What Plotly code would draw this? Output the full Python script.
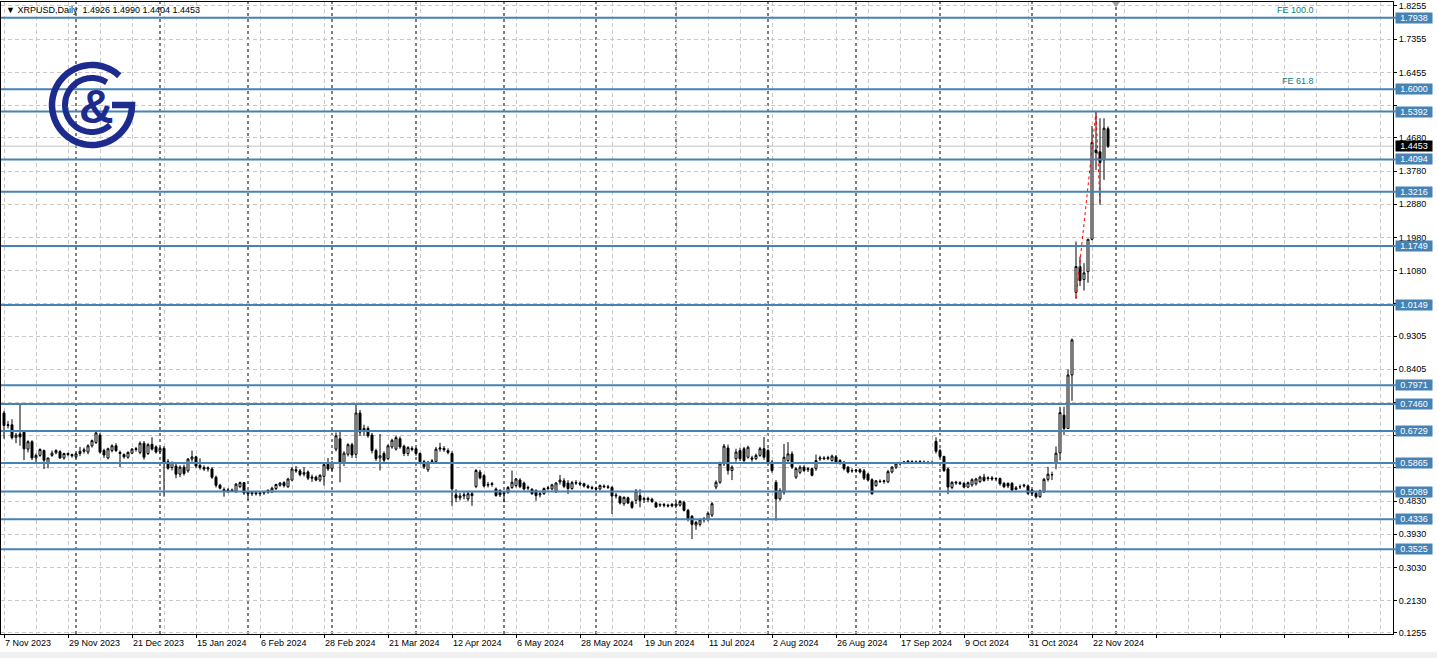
import numpy as np
import pandas as pd
import plotly.graph_objects as go

# ---------------- data ----------------
opens = [0.722,0.688,0.690,0.656,0.665,0.670,0.624,0.644,0.600,0.607,
         0.620,0.585,0.607,0.614,0.617,0.600,0.612,0.609,0.603,0.612,
         0.618,0.616,0.633,0.642,0.662,0.620,0.600,0.620,0.633,0.615,
         0.609,0.602,0.613,0.623,0.615,0.640,0.612,0.637,0.630,0.618,
         0.626,0.590,0.574,0.578,0.556,0.575,0.565,0.597,0.603,0.580,
         0.574,0.570,0.570,0.548,0.526,0.514,0.511,0.513,0.510,0.522,
         0.533,0.508,0.503,0.506,0.503,0.505,0.507,0.508,0.517,0.526,
         0.533,0.522,0.540,0.568,0.565,0.556,0.562,0.545,0.548,0.540,
         0.550,0.583,0.571,0.624,0.652,0.586,0.610,0.636,0.610,0.722,
         0.672,0.680,0.662,0.620,0.600,0.612,0.598,0.630,0.624,0.652,
         0.632,0.612,0.626,0.625,0.612,0.590,0.568,0.590,0.590,0.624,
         0.626,0.620,0.612,0.500,0.492,0.497,0.489,0.503,0.523,0.562,
         0.552,0.526,0.528,0.516,0.512,0.503,0.507,0.520,0.525,0.540,
         0.532,0.518,0.515,0.511,0.500,0.503,0.517,0.516,0.508,0.535,
         0.538,0.532,0.517,0.533,0.532,0.530,0.524,0.520,0.518,0.516,
         0.524,0.522,0.520,0.497,0.495,0.476,0.492,0.480,0.485,0.498,
         0.487,0.490,0.488,0.478,0.472,0.474,0.472,0.474,0.470,0.472,
         0.480,0.458,0.442,0.418,0.420,0.432,0.433,0.445,0.521,0.534,
         0.584,0.627,0.566,0.598,0.620,0.625,0.602,0.600,0.598,0.607,
         0.625,0.620,0.589,0.534,0.489,0.507,0.593,0.611,0.548,0.561,
         0.575,0.568,0.571,0.571,0.597,0.600,0.598,0.593,0.603,0.593,
         0.588,0.575,0.566,0.565,0.568,0.565,0.556,0.541,0.525,0.537,
         0.536,0.535,0.562,0.575,0.584,0.587,0.589,0.590,0.588,0.589,
         0.589,0.587,0.588,0.645,0.620,0.604,0.570,0.520,0.532,0.533,
         0.531,0.521,0.527,0.530,0.536,0.548,0.544,0.546,0.543,0.544,
         0.531,0.531,0.531,0.515,0.522,0.524,0.524,0.513,0.504,0.495,
         0.508,0.542,0.554,0.586,0.614,0.716,0.680,0.825,1.049,1.119,
         1.084,1.105,1.193,1.435,1.430,1.408,1.4926]
highs = [0.728,0.700,0.705,0.668,0.748,0.675,0.648,0.648,0.612,0.626,
         0.623,0.600,0.620,0.624,0.621,0.614,0.615,0.612,0.615,0.630,
         0.628,0.637,0.650,0.673,0.668,0.625,0.628,0.637,0.640,0.620,
         0.612,0.618,0.627,0.630,0.645,0.646,0.640,0.656,0.634,0.630,
         0.632,0.597,0.590,0.584,0.580,0.582,0.600,0.620,0.606,0.599,
         0.580,0.577,0.575,0.552,0.530,0.520,0.518,0.517,0.532,0.536,
         0.535,0.512,0.510,0.510,0.509,0.510,0.515,0.522,0.530,0.535,
         0.537,0.546,0.575,0.578,0.570,0.575,0.566,0.555,0.552,0.556,
         0.585,0.600,0.592,0.669,0.674,0.618,0.640,0.641,0.744,0.730,
         0.690,0.686,0.668,0.625,0.665,0.618,0.637,0.652,0.660,0.658,
         0.636,0.632,0.632,0.628,0.615,0.595,0.592,0.597,0.630,0.641,
         0.632,0.626,0.618,0.515,0.505,0.507,0.508,0.510,0.570,0.568,
         0.556,0.535,0.535,0.520,0.515,0.510,0.524,0.566,0.546,0.545,
         0.536,0.525,0.518,0.515,0.508,0.520,0.524,0.530,0.535,0.554,
         0.545,0.540,0.538,0.540,0.536,0.533,0.528,0.525,0.522,0.528,
         0.528,0.527,0.524,0.505,0.498,0.496,0.495,0.484,0.516,0.515,
         0.495,0.495,0.492,0.482,0.477,0.478,0.476,0.478,0.485,0.486,
         0.484,0.462,0.445,0.430,0.436,0.440,0.455,0.480,0.539,0.590,
         0.638,0.636,0.580,0.625,0.628,0.630,0.633,0.606,0.612,0.630,
         0.657,0.625,0.594,0.540,0.518,0.638,0.643,0.618,0.575,0.580,
         0.580,0.575,0.574,0.609,0.606,0.605,0.606,0.609,0.608,0.597,
         0.592,0.578,0.572,0.570,0.572,0.570,0.560,0.545,0.540,0.542,
         0.541,0.568,0.578,0.587,0.590,0.592,0.594,0.594,0.593,0.594,
         0.593,0.592,0.592,0.656,0.625,0.606,0.574,0.537,0.538,0.537,
         0.535,0.536,0.545,0.546,0.552,0.557,0.550,0.551,0.548,0.547,
         0.535,0.534,0.535,0.524,0.528,0.530,0.528,0.516,0.508,0.514,
         0.546,0.576,0.563,0.631,0.739,0.739,0.840,0.924,1.187,1.146,
         1.128,1.193,1.500,1.539,1.521,1.521,1.4990]
lows = [0.652,0.680,0.650,0.640,0.633,0.594,0.615,0.594,0.584,0.603,
        0.570,0.572,0.603,0.610,0.598,0.595,0.604,0.601,0.598,0.605,
        0.612,0.610,0.628,0.638,0.612,0.600,0.596,0.615,0.616,0.575,
        0.598,0.598,0.610,0.617,0.610,0.595,0.608,0.620,0.612,0.612,
        0.495,0.568,0.566,0.545,0.548,0.552,0.560,0.590,0.572,0.568,
        0.565,0.563,0.543,0.520,0.515,0.495,0.505,0.508,0.505,0.518,
        0.500,0.486,0.497,0.498,0.496,0.500,0.503,0.505,0.513,0.522,
        0.520,0.519,0.537,0.560,0.550,0.550,0.540,0.535,0.537,0.535,
        0.525,0.565,0.565,0.618,0.534,0.578,0.604,0.600,0.600,0.660,
        0.660,0.655,0.612,0.592,0.566,0.588,0.595,0.625,0.620,0.625,
        0.605,0.605,0.618,0.606,0.584,0.570,0.562,0.584,0.585,0.617,
        0.617,0.610,0.470,0.480,0.485,0.488,0.482,0.470,0.518,0.542,
        0.520,0.520,0.522,0.495,0.494,0.480,0.503,0.516,0.520,0.518,
        0.512,0.512,0.500,0.484,0.493,0.500,0.512,0.512,0.505,0.528,
        0.518,0.502,0.514,0.527,0.524,0.520,0.516,0.514,0.510,0.512,
        0.518,0.516,0.448,0.490,0.474,0.470,0.475,0.462,0.475,0.466,
        0.478,0.480,0.478,0.465,0.467,0.466,0.466,0.466,0.466,0.468,
        0.455,0.428,0.380,0.405,0.414,0.425,0.428,0.440,0.515,0.530,
        0.578,0.555,0.540,0.590,0.592,0.588,0.598,0.590,0.594,0.603,
        0.595,0.585,0.560,0.430,0.484,0.500,0.585,0.570,0.543,0.556,
        0.562,0.562,0.550,0.565,0.592,0.594,0.594,0.590,0.585,0.582,
        0.566,0.558,0.560,0.560,0.558,0.540,0.536,0.500,0.522,0.532,
        0.530,0.532,0.558,0.570,0.580,0.583,0.585,0.585,0.584,0.585,
        0.584,0.583,0.583,0.612,0.600,0.562,0.502,0.515,0.527,0.527,
        0.518,0.518,0.522,0.525,0.532,0.535,0.538,0.538,0.537,0.525,
        0.518,0.518,0.510,0.512,0.516,0.520,0.500,0.498,0.490,0.492,
        0.505,0.536,0.540,0.569,0.594,0.662,0.680,0.755,1.032,1.066,
        1.054,1.075,1.190,1.381,1.2865,1.354,1.4404]
closes = [0.688,0.690,0.655,0.662,0.657,0.625,0.644,0.600,0.607,0.623,
          0.594,0.600,0.613,0.620,0.600,0.612,0.609,0.606,0.611,0.618,
          0.622,0.633,0.647,0.668,0.616,0.608,0.625,0.633,0.620,0.612,
          0.603,0.615,0.624,0.625,0.640,0.602,0.636,0.624,0.616,0.626,
          0.588,0.572,0.588,0.556,0.575,0.558,0.597,0.603,0.578,0.574,
          0.570,0.573,0.548,0.526,0.518,0.510,0.513,0.510,0.529,0.533,
          0.505,0.503,0.506,0.503,0.505,0.507,0.512,0.518,0.528,0.532,
          0.525,0.543,0.570,0.565,0.555,0.560,0.545,0.548,0.540,0.553,
          0.582,0.570,0.588,0.660,0.588,0.613,0.636,0.608,0.722,0.670,
          0.680,0.660,0.620,0.598,0.606,0.594,0.633,0.648,0.655,0.630,
          0.612,0.628,0.623,0.612,0.590,0.576,0.588,0.592,0.624,0.627,
          0.622,0.615,0.516,0.492,0.497,0.500,0.503,0.498,0.566,0.546,
          0.524,0.528,0.530,0.498,0.500,0.506,0.520,0.534,0.543,0.522,
          0.516,0.520,0.503,0.498,0.503,0.517,0.519,0.527,0.532,0.540,
          0.523,0.517,0.533,0.532,0.529,0.524,0.520,0.518,0.516,0.525,
          0.522,0.520,0.497,0.499,0.478,0.493,0.478,0.466,0.510,0.485,
          0.490,0.487,0.482,0.467,0.474,0.472,0.470,0.470,0.475,0.482,
          0.458,0.435,0.420,0.425,0.432,0.435,0.450,0.476,0.534,0.584,
          0.632,0.566,0.575,0.616,0.598,0.593,0.629,0.597,0.607,0.625,
          0.602,0.589,0.566,0.489,0.512,0.602,0.611,0.575,0.571,0.575,
          0.566,0.571,0.553,0.593,0.600,0.598,0.601,0.605,0.588,0.585,
          0.571,0.562,0.565,0.567,0.562,0.545,0.540,0.503,0.538,0.536,
          0.538,0.563,0.575,0.584,0.587,0.589,0.591,0.588,0.589,0.590,
          0.587,0.588,0.587,0.618,0.604,0.566,0.521,0.534,0.534,0.530,
          0.521,0.533,0.541,0.543,0.548,0.539,0.546,0.543,0.544,0.530,
          0.522,0.524,0.513,0.519,0.522,0.526,0.504,0.504,0.495,0.511,
          0.542,0.556,0.555,0.613,0.723,0.680,0.825,0.920,1.119,1.081,
          1.102,1.193,1.455,1.428,1.401,1.494,1.4453]

level_values = [1.7938, 1.6000, 1.5392, 1.4094, 1.3216, 1.1749, 1.0149,
                0.7971, 0.7460, 0.6729, 0.5865, 0.5089, 0.4336, 0.3525]
current_price = 1.4453
price_ticks = [1.8255, 1.7355, 1.6455, 1.5555, 1.4680, 1.3780, 1.2880, 1.1980,
               1.1080, 1.0180, 0.9305, 0.8405, 0.7505, 0.6605, 0.5730, 0.4830,
               0.3930, 0.3030, 0.2130, 0.1255]
# tick labels that are hidden behind level boxes in the reference
hidden_ticks = [1.5555, 1.0180, 0.7505, 0.6605, 0.5730]
date_labels = ["7 Nov 2023", "29 Nov 2023", "21 Dec 2023", "15 Jan 2024",
               "6 Feb 2024", "28 Feb 2024", "21 Mar 2024", "12 Apr 2024",
               "6 May 2024", "28 May 2024", "19 Jun 2024", "11 Jul 2024",
               "2 Aug 2024", "26 Aug 2024", "17 Sep 2024", "9 Oct 2024",
               "31 Oct 2024", "22 Nov 2024"]
fe_names = ["FE 100.0", "FE 61.8"]
fe_levels = [1.7938, 1.6000]
fe_bar = [268, 273, 274]
fe_price = [1.0319, 1.5392, 1.2865]
header = "XRPUSD,Daily  1.4926 1.4990 1.4404 1.4453"

# ---------------- geometry helpers ----------------
W, H = 1437, 658
ML, MR, MT, MB = 1, 44, 2, 24
PW, PH = W - ML - MR, H - MT - MB
BAR_PX = 4
x_lo = -0.75
x_hi = x_lo + PW / BAR_PX
y_hi, y_lo = 1.8363, 0.12268


def px2paper(px, py):
    return (px - ML) / PW, 1 - (py - MT) / PH


n = len(closes)
idx = list(range(n))
all_days = pd.bdate_range("2023-11-07", "2024-12-31")
all_days = all_days[all_days != pd.Timestamp("2024-01-01")]
month_first = [i for i in range(1, len(all_days))
               if all_days[i].month != all_days[i - 1].month and i < x_hi]

BLUE = "#4682B4"
FONT = "Liberation Sans, Arial, sans-serif"

fig = go.Figure()
fig.add_trace(go.Candlestick(
    x=idx, open=opens, high=highs, low=lows, close=closes,
    increasing=dict(fillcolor="white", line=dict(color="black", width=1)),
    decreasing=dict(fillcolor="black", line=dict(color="black", width=1)),
    whiskerwidth=0, hoverinfo="skip", showlegend=False))
fig.add_trace(go.Scatter(
    x=fe_bar, y=fe_price, mode="lines", hoverinfo="skip", showlegend=False,
    line=dict(color="#ff0000", width=1, dash="3px,3px")))

shapes = []
for m in month_first:
    shapes.append(dict(type="line", xref="x", yref="paper", x0=m, x1=m, y0=0, y1=1,
                       line=dict(color="black", width=1, dash="3px,3px"), layer="below"))
shapes.append(dict(type="line", xref="paper", yref="y", x0=0, x1=1, y0=current_price,
                   y1=current_price, line=dict(color="#c0c0c0", width=1), layer="below"))
for lv in level_values:
    shapes.append(dict(type="line", xref="paper", yref="y", x0=0, x1=1.002, y0=lv, y1=lv,
                       line=dict(color=BLUE, width=2)))

NAVY = "#1d2a8e"
cx, cy = 92, 105


def arc_path(r, a0, a1, extra=None):
    th = np.radians(np.linspace(a0, a1, 80))
    pts = [px2paper(cx + r * np.cos(t), cy - r * np.sin(t)) for t in th]
    if extra:
        pts += [px2paper(*e) for e in extra]
    return "M " + " L ".join(f"{a:.5f},{b:.5f}" for a, b in pts)


shapes.append(dict(type="path", xref="paper", yref="paper",
                   path=arc_path(40, 47, 360, extra=[(112, 105)]),
                   line=dict(color=NAVY, width=6.5)))
shapes.append(dict(type="path", xref="paper", yref="paper",
                   path=arc_path(27, 57, 312), line=dict(color=NAVY, width=6)))
a = px2paper(1112, 2); b = px2paper(1120, 2); c = px2paper(1116, 7)
shapes.append(dict(type="path", xref="paper", yref="paper",
                   path=f"M {a[0]},{a[1]} L {b[0]},{b[1]} L {c[0]},{c[1]} Z",
                   fillcolor="#a0a0a0", line=dict(width=0)))
s0 = px2paper(0, 652); s1 = px2paper(W, H)
shapes.append(dict(type="rect", xref="paper", yref="paper", x0=s0[0], x1=s1[0] + 0.01,
                   y0=s1[1] - 0.01, y1=s0[1], fillcolor="#f0f0f0", line=dict(width=0),
                   layer="below"))

annotations = []
for lv in level_values:
    annotations.append(dict(xref="paper", yref="y", x=1, y=lv, xanchor="left", xshift=2,
                            text=f"{lv:.4f}", showarrow=False, bgcolor=BLUE,
                            font=dict(family=FONT, size=9, color="white"),
                            width=36, height=10, borderpad=0, align="center"))
annotations.append(dict(xref="paper", yref="y", x=1, y=current_price, xanchor="left",
                        xshift=2, text=f"{current_price:.4f}", showarrow=False,
                        bgcolor="black", font=dict(family=FONT, size=9, color="white"),
                        width=36, height=10, borderpad=0, align="center"))
for name, lv in zip(fe_names, fe_levels):
    annotations.append(dict(xref="x", yref="y", x=(1316 - 4) / BAR_PX, y=lv,
                            xanchor="right", yanchor="bottom", yshift=1, text=name,
                            showarrow=False, font=dict(family=FONT, size=9, color="#0a8080")))
hx, hy = px2paper(4, 3)
annotations.append(dict(xref="paper", yref="paper", x=hx, y=hy, xanchor="left",
                        yanchor="top", text="▼ " + header, showarrow=False,
                        font=dict(family=FONT, size=9, color="black")))
lx, ly = px2paper(96, 106)
annotations.append(dict(xref="paper", yref="paper", x=lx, y=ly, xanchor="center",
                        yanchor="middle", text="<b>&</b>", showarrow=False,
                        font=dict(family=FONT, size=48, color=NAVY)))

tickvals_x = list(range(0, int(x_hi) + 1, 16))
ticktext_x = [date_labels[i] if i < len(date_labels) else "" for i in range(len(tickvals_x))]
ticktext_y = ["" if v in hidden_ticks else f"{v:.4f}" for v in price_ticks]

fig.update_layout(
    width=W, height=H, margin=dict(l=ML, r=MR, t=MT, b=MB),
    paper_bgcolor="white", plot_bgcolor="white", boxgap=0.3,
    shapes=shapes, annotations=annotations, showlegend=False,
    xaxis=dict(range=[x_lo, x_hi], rangeslider=dict(visible=False), tickmode="array",
               tickvals=tickvals_x, ticktext=ticktext_x, ticklabelposition="outside right",
               ticks="outside", ticklen=3, tickcolor="black",
               tickfont=dict(family=FONT, size=9, color="black"),
               showgrid=True, gridcolor="#c8c8c8", griddash="4px,3px", gridwidth=1,
               minor=dict(dtick=8, tick0=0, showgrid=True, gridcolor="#c8c8c8",
                          griddash="4px,3px", ticklen=0),
               showline=True, linecolor="black", linewidth=1, mirror=True, zeroline=False),
    yaxis=dict(range=[y_lo, y_hi], side="right", tickmode="array", tickvals=price_ticks,
               ticktext=ticktext_y, ticks="outside", ticklen=3,
               tickcolor="black", tickfont=dict(family=FONT, size=9, color="black"),
               showgrid=True, gridcolor="#c8c8c8", griddash="4px,3px", gridwidth=1,
               showline=True, linecolor="black", linewidth=1, mirror=True, zeroline=False),
)

fig.write_html("out.html",
               config={"displayModeBar": False, "staticPlot": True},
               post_script="document.body.style.margin='0px';"
                           "document.documentElement.style.overflow='hidden';")
